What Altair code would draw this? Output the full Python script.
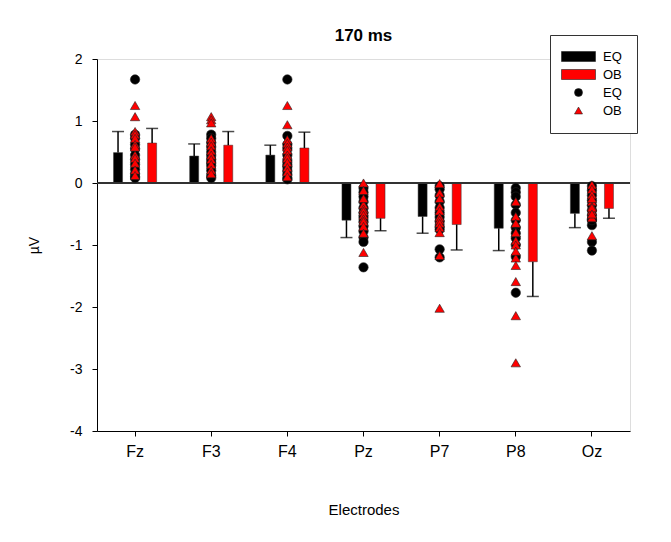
import altair as alt
import pandas as pd

electrodes = ["Fz", "F3", "F4", "Pz", "P7", "P8", "Oz"]

eq_mean = [0.49, 0.435, 0.45, -0.60, -0.54, -0.73, -0.49]
eq_err = [0.83, 0.63, 0.61, -0.88, -0.81, -1.09, -0.72]
ob_mean = [0.645, 0.61, 0.565, -0.57, -0.67, -1.27, -0.41]
ob_err = [0.88, 0.83, 0.82, -0.77, -1.08, -1.83, -0.57]

eq_fz = [1.67, 0.78, 0.72, 0.62, 0.55, 0.45, 0.38, 0.30, 0.22, 0.15, 0.10, 0.08]
eq_f3 = [0.78, 0.72, 0.65, 0.58, 0.50, 0.44, 0.38, 0.33, 0.28, 0.20, 0.12, 0.08]
eq_f4 = [1.67, 0.76, 0.62, 0.55, 0.45, 0.36, 0.30, 0.26, 0.20, 0.14, 0.08, 0.06]
eq_pz = [-0.08, -0.15, -0.22, -0.30, -0.40, -0.48, -0.55, -0.62, -0.70, -0.78, -0.88, -0.95, -1.36]
eq_p7 = [-0.05, -0.10, -0.20, -0.30, -0.40, -0.48, -0.55, -0.62, -0.70, -0.75, -1.07, -1.20]
eq_p8 = [-0.08, -0.15, -0.22, -0.35, -0.48, -0.60, -0.72, -0.81, -0.89, -1.00, -1.19, -1.77]
eq_oz = [-0.05, -0.12, -0.20, -0.28, -0.36, -0.44, -0.52, -0.59, -0.68, -0.95, -1.09, -0.60]

ob_fz = [1.25, 1.07, 0.83, 0.78, 0.72, 0.62, 0.58, 0.45, 0.40, 0.32, 0.21, 0.12]
ob_f3 = [1.07, 1.02, 0.97, 0.72, 0.66, 0.60, 0.52, 0.45, 0.38, 0.30, 0.21, 0.15]
ob_f4 = [1.25, 0.94, 0.70, 0.64, 0.58, 0.53, 0.45, 0.40, 0.33, 0.25, 0.18, 0.10]
ob_pz = [0.0, -0.12, -0.35, -0.42, -0.46, -0.52, -0.58, -0.62, -0.70, -0.81, -1.12, -0.25]
ob_p7 = [-0.01, -0.16, -0.25, -0.38, -0.45, -0.55, -0.60, -0.65, -0.72, -0.80, -1.17, -2.02]
ob_p8 = [-0.30, -0.54, -0.65, -0.93, -1.00, -1.21, -1.33, -1.59, -2.14, -2.90, -0.80, -1.10]
ob_oz = [-0.03, -0.10, -0.19, -0.30, -0.38, -0.45, -0.51, -0.56, -0.85, -0.40, -0.25, -0.50]

eq_points = [eq_fz, eq_f3, eq_f4, eq_pz, eq_p7, eq_p8, eq_oz]
ob_points = [ob_fz, ob_f3, ob_f4, ob_pz, ob_p7, ob_p8, ob_oz]

keys = ["EQ_bar", "OB_bar", "EQ_pt", "OB_pt"]
colors = ["#000000", "#ff0000", "#000000", "#ff0000"]
bar_path = "M-4.25,-1.25H4.25V1.25H-4.25Z"
shapes = [bar_path, bar_path, "circle", "triangle-up"]

bar_rows = []
for i, e in enumerate(electrodes):
    bar_rows.append(dict(electrode=e, slot="EQ", key="EQ_bar", mean=eq_mean[i], err=eq_err[i]))
    bar_rows.append(dict(electrode=e, slot="OB", key="OB_bar", mean=ob_mean[i], err=ob_err[i]))
bars_df = pd.DataFrame(bar_rows)

pt_rows = []
for i, e in enumerate(electrodes):
    for v in eq_points[i]:
        pt_rows.append(dict(electrode=e, slot="mid", key="EQ_pt", value=v))
for i, e in enumerate(electrodes):
    for v in ob_points[i]:
        pt_rows.append(dict(electrode=e, slot="mid", key="OB_pt", value=v))
pts_df = pd.DataFrame(pt_rows)

FONT = "Liberation Sans"

x_enc = alt.X(
    "electrode:N",
    sort=electrodes,
    scale=alt.Scale(paddingInner=0, paddingOuter=0),
    axis=alt.Axis(
        title="Electrodes", labelAngle=0, labelFontSize=16, labelFont=FONT,
        labelColor="black", tickSize=5, tickColor="black", domainColor="black",
        labelPadding=7, titleFontSize=15, titleFont=FONT, titleFontWeight="normal",
        titleColor="black", titlePadding=43, grid=False,
    ),
)
xoff_scale = alt.Scale(domain=["EQ", "mid", "OB"], paddingInner=0.471, paddingOuter=0.97)
xoff = alt.XOffset("slot:N", scale=xoff_scale)

y_scale = alt.Scale(domain=[-4, 2], nice=False, zero=False)
y_axis = alt.Axis(
    title="µV", values=[-4, -3, -2, -1, 0, 1, 2], labelExpr="'' + datum.value",
    labelFontSize=14, labelFont=FONT, labelColor="black", tickSize=5,
    tickColor="black", domainColor="black", labelPadding=10, grid=False,
    titleFontSize=14, titleFont=FONT, titleFontWeight="normal", titleColor="black",
    titlePadding=28,
)

legend = alt.Legend(
    title=None, orient="none", legendX=453, legendY=-24,
    labelExpr="split(datum.label, '_')[0]",
    labelFont=FONT, labelFontSize=13, labelColor="black",
    symbolSize=64, symbolOffset=7, labelOffset=18, rowPadding=4,
    padding=15, strokeColor="#333333", fillColor="white",
    symbolStrokeColor="#222222", symbolStrokeWidth=0.6,
)
color_enc = alt.Color("key:N", scale=alt.Scale(domain=keys, range=colors), legend=legend)
shape_enc = alt.Shape("key:N", scale=alt.Scale(domain=keys, range=shapes), legend=legend)

bars = alt.Chart(bars_df).mark_bar(stroke="#333333", strokeWidth=0.5).encode(
    x=x_enc,
    xOffset=xoff,
    y=alt.Y("mean:Q", scale=y_scale, axis=y_axis),
    color=color_enc,
)

err_line = alt.Chart(bars_df).mark_rule(color="black", strokeWidth=1.5).encode(
    x=x_enc, xOffset=xoff, y=alt.Y("mean:Q", scale=y_scale), y2="err:Q",
)
err_cap = alt.Chart(bars_df).mark_tick(color="black", thickness=1.5, size=12).encode(
    x=x_enc, xOffset=xoff, y=alt.Y("err:Q", scale=y_scale),
)

zero = alt.Chart(bars_df).mark_rule(color="#333333", strokeWidth=1).encode(
    y=alt.datum(0),
)

points = alt.Chart(pts_df).mark_point(filled=True, size=88, opacity=1, stroke="#222222", strokeWidth=0.6).encode(
    x=x_enc,
    xOffset=xoff,
    y=alt.Y("value:Q", scale=y_scale),
    color=color_enc,
    shape=shape_enc,
)

chart = alt.layer(bars, zero, err_line, err_cap, points).properties(
    width=533,
    height=372,
    title=alt.TitleParams("170 ms", font=FONT, fontSize=17, fontWeight="bold", color="black", anchor="middle", offset=8, dy=18),
    autosize=alt.AutoSizeParams(type="none"),
    padding={"left": 89, "top": 51, "right": 33, "bottom": 90},
).configure_view(stroke=None).configure_axis(grid=False).configure(background="white")

chart.save("out.html", embed_options={"renderer": "svg", "actions": False})
